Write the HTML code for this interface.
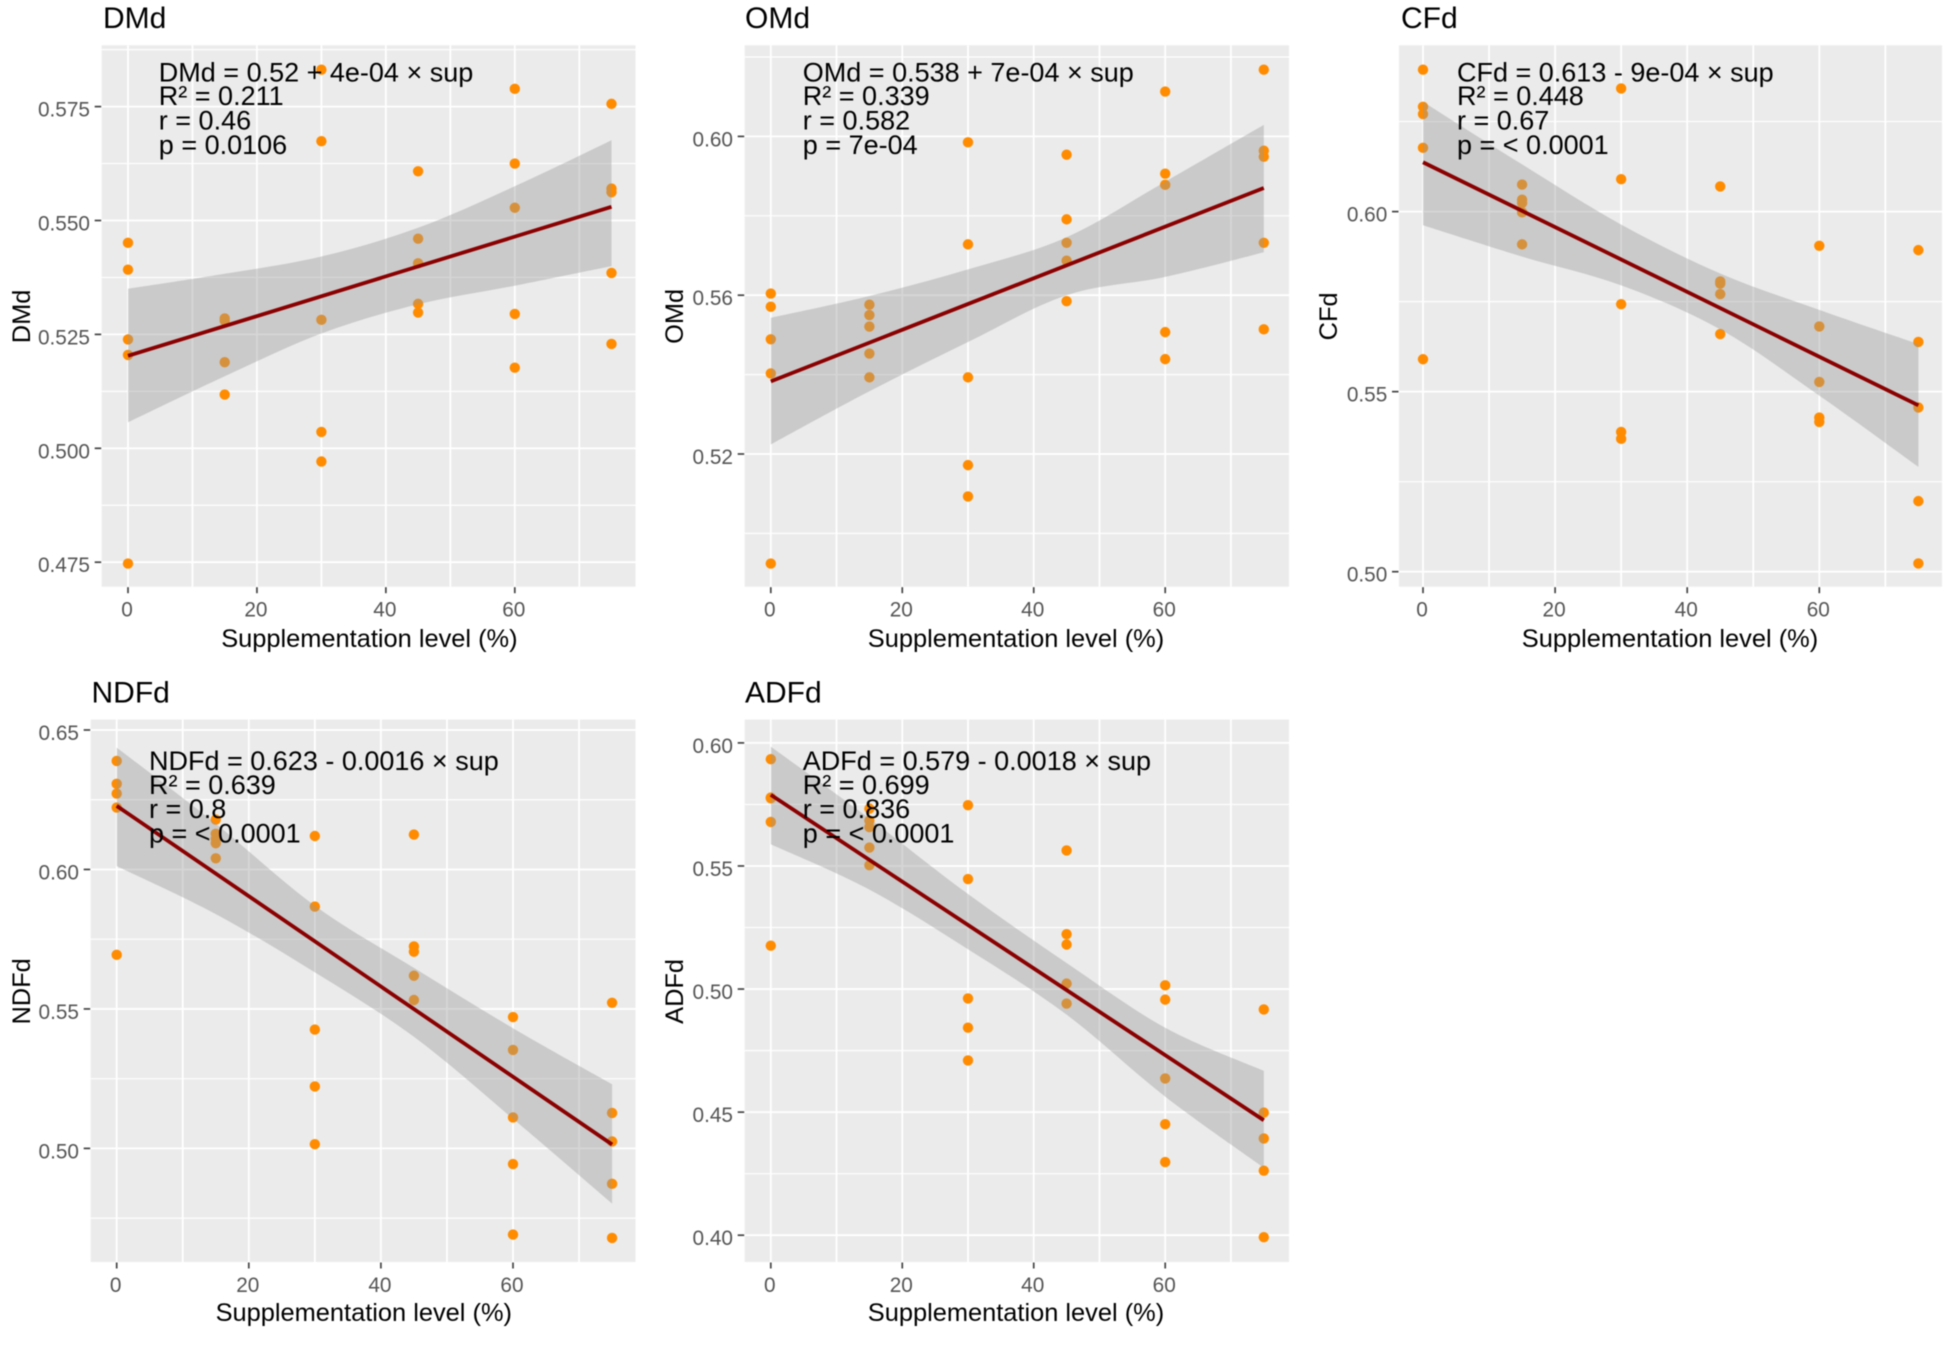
<!DOCTYPE html>
<html lang="en">
<head>
<meta charset="utf-8">
<title>Digestibility vs supplementation level</title>
<style>
  html, body { margin: 0; padding: 0; background: #fff; }
  svg { display: block; font-family: "Liberation Sans", Arial, sans-serif; filter: blur(0.45px); }
  .title { font-size: 30px; fill: #000; }
  .axis-title { font-size: 25.4px; fill: #000; }
  .note { font-size: 27px; fill: #000; }
  .tick-label { font-size: 20.8px; fill: #555; }
</style>
</head>
<body>
<svg id="figure" width="1949" height="1346" viewBox="0 0 1949 1346" xmlns="http://www.w3.org/2000/svg">
  <rect x="0" y="0" width="1949" height="1346" fill="#ffffff"/>
  <g id="marks"></g>

  <g>
    <text class="title" x="103" y="28">DMd</text>
    <text class="axis-title" x="369.4" y="647" text-anchor="middle">Supplementation level (%)</text>
    <text class="axis-title" transform="translate(30 316.4) rotate(-90)" text-anchor="middle">DMd</text>
    <text class="note" x="158.8" y="81.7">DMd = 0.52 + 4e-04 × sup</text>
    <text class="note" x="158.8" y="105.2">R² = 0.211</text>
    <text class="note" x="158.8" y="129.3">r = 0.46</text>
    <text class="note" x="158.8" y="154">p = 0.0106</text>
  </g>
  <g>
    <text class="title" x="745" y="28">OMd</text>
    <text class="axis-title" x="1016" y="647" text-anchor="middle">Supplementation level (%)</text>
    <text class="axis-title" transform="translate(682.8 316.4) rotate(-90)" text-anchor="middle">OMd</text>
    <text class="note" x="802.8" y="81.7">OMd = 0.538 + 7e-04 × sup</text>
    <text class="note" x="802.8" y="105.2">R² = 0.339</text>
    <text class="note" x="802.8" y="129.3">r = 0.582</text>
    <text class="note" x="802.8" y="154">p = 7e-04</text>
  </g>
  <g>
    <text class="title" x="1401" y="28">CFd</text>
    <text class="axis-title" x="1670" y="647" text-anchor="middle">Supplementation level (%)</text>
    <text class="axis-title" transform="translate(1337 316.4) rotate(-90)" text-anchor="middle">CFd</text>
    <text class="note" x="1457" y="81.7">CFd = 0.613 - 9e-04 × sup</text>
    <text class="note" x="1457" y="105.2">R² = 0.448</text>
    <text class="note" x="1457" y="129.3">r = 0.67</text>
    <text class="note" x="1457" y="154">p = &lt; 0.0001</text>
  </g>
  <g>
    <text class="title" x="91.5" y="702.5">NDFd</text>
    <text class="axis-title" x="363.8" y="1321" text-anchor="middle">Supplementation level (%)</text>
    <text class="axis-title" transform="translate(30 991.4) rotate(-90)" text-anchor="middle">NDFd</text>
    <text class="note" x="149" y="770">NDFd = 0.623 - 0.0016 × sup</text>
    <text class="note" x="149" y="793.8">R² = 0.639</text>
    <text class="note" x="149" y="818">r = 0.8</text>
    <text class="note" x="149" y="842.6">p = &lt; 0.0001</text>
  </g>
  <g>
    <text class="title" x="745" y="702.5">ADFd</text>
    <text class="axis-title" x="1016" y="1321" text-anchor="middle">Supplementation level (%)</text>
    <text class="axis-title" transform="translate(682.8 991.4) rotate(-90)" text-anchor="middle">ADFd</text>
    <text class="note" x="802.8" y="770">ADFd = 0.579 - 0.0018 × sup</text>
    <text class="note" x="802.8" y="793.8">R² = 0.699</text>
    <text class="note" x="802.8" y="818">r = 0.836</text>
    <text class="note" x="802.8" y="842.6">p = &lt; 0.0001</text>
  </g>
</svg>
<script>
// Shared x categories and ticks
const supLevels = [0, 15, 30, 45, 60, 75];
const xMajorTicks = [0, 20, 40, 60];
const xMinorTicks = [10, 30, 50, 70];
const xTickLabels = ["0", "20", "40", "60"];
const fitX = [0, 75];

// DMd
const dmdValues = [
  [0.5451, 0.5392, 0.5239, 0.5205, 0.4747],
  [0.5285, 0.5280, 0.5189, 0.5118],
  [0.5831, 0.5674, 0.5282, 0.5036, 0.4971],
  [0.5608, 0.5460, 0.5406, 0.5317, 0.5298],
  [0.5789, 0.5625, 0.5528, 0.5295, 0.5177],
  [0.5756, 0.5570, 0.5562, 0.5385, 0.5229]
];
const dmdFit = [0.5203, 0.5530];
const dmdUpper = [0.5350, 0.5383, 0.5421, 0.5484, 0.5575, 0.5676];
const dmdLower = [0.5057, 0.5158, 0.5252, 0.5316, 0.5357, 0.5400];
const dmdTicks = [0.475, 0.5, 0.525, 0.55, 0.575];
const dmdTickLabels = ["0.475", "0.500", "0.525", "0.550", "0.575"];
const dmdMinor = [0.4875, 0.5125, 0.5375, 0.5625, 0.5875];

// OMd
const omdValues = [
  [0.5604, 0.5571, 0.5489, 0.5403, 0.4924],
  [0.5576, 0.5550, 0.5521, 0.5453, 0.5393],
  [0.5985, 0.5728, 0.5393, 0.5172, 0.5093],
  [0.5954, 0.5791, 0.5732, 0.5687, 0.5585],
  [0.6113, 0.5906, 0.5878, 0.5507, 0.5439],
  [0.6168, 0.5964, 0.5949, 0.5732, 0.5514]
];
const omdFit = [0.5383, 0.5870];
const omdUpper = [0.5543, 0.5598, 0.5665, 0.5746, 0.5886, 0.6029];
const omdLower = [0.5224, 0.5358, 0.5482, 0.5600, 0.5646, 0.5708];
const omdTicks = [0.52, 0.56, 0.60];
const omdTickLabels = ["0.52", "0.56", "0.60"];
const omdMinor = [0.50, 0.54, 0.58, 0.62];

// CFd
const cfdValues = [
  [0.6394, 0.6291, 0.6271, 0.6177, 0.5590],
  [0.6075, 0.6033, 0.6024, 0.5998, 0.5909],
  [0.6342, 0.6090, 0.5743, 0.5388, 0.5369],
  [0.6070, 0.5806, 0.5800, 0.5771, 0.5660],
  [0.5905, 0.5681, 0.5527, 0.5428, 0.5416],
  [0.5893, 0.5638, 0.5456, 0.5196, 0.5023]
];
const cfdFit = [0.6137, 0.5462];
const cfdUpper = [0.6305, 0.6131, 0.5964, 0.5828, 0.5727, 0.5632];
const cfdLower = [0.5962, 0.5875, 0.5795, 0.5673, 0.5489, 0.5291];
const cfdTicks = [0.50, 0.55, 0.60];
const cfdTickLabels = ["0.50", "0.55", "0.60"];
const cfdMinor = [0.525, 0.575, 0.625];

// NDFd
const ndfdValues = [
  [0.6389, 0.6307, 0.6272, 0.6222, 0.5694],
  [0.6179, 0.6128, 0.6110, 0.6094, 0.6040],
  [0.6120, 0.5867, 0.5426, 0.5222, 0.5015],
  [0.6125, 0.5724, 0.5705, 0.5619, 0.5532],
  [0.5471, 0.5353, 0.5111, 0.4944, 0.4691],
  [0.5522, 0.5127, 0.5025, 0.4873, 0.4679]
];
const ndfdFit = [0.6228, 0.5014];
const ndfdUpper = [0.6437, 0.6164, 0.5870, 0.5647, 0.5431, 0.5230];
const ndfdLower = [0.6012, 0.5840, 0.5631, 0.5400, 0.5106, 0.4802];
const ndfdTicks = [0.50, 0.55, 0.60, 0.65];
const ndfdTickLabels = ["0.50", "0.55", "0.60", "0.65"];
const ndfdMinor = [0.475, 0.525, 0.575, 0.625];

// ADFd
const adfdValues = [
  [0.5934, 0.5778, 0.5775, 0.5679, 0.5176],
  [0.5733, 0.5684, 0.5658, 0.5575, 0.5503],
  [0.5747, 0.5447, 0.4962, 0.4843, 0.4710],
  [0.5563, 0.5223, 0.5181, 0.5022, 0.4941],
  [0.5015, 0.4957, 0.4637, 0.4451, 0.4297],
  [0.4917, 0.4498, 0.4393, 0.4262, 0.3992]
];
const adfdFit = [0.5789, 0.4467];
const adfdUpper = [0.5985, 0.5693, 0.5386, 0.5106, 0.4843, 0.4668];
const adfdLower = [0.5588, 0.5404, 0.5162, 0.4896, 0.4563, 0.4274];
const adfdTicks = [0.40, 0.45, 0.50, 0.55, 0.60];
const adfdTickLabels = ["0.40", "0.45", "0.50", "0.55", "0.60"];
const adfdMinor = [0.425, 0.475, 0.525, 0.575];

const NS = "http://www.w3.org/2000/svg";
const marksRoot = document.getElementById("marks");

function make(tag, parent, attrs) {
  const el = document.createElementNS(NS, tag);
  for (const k in attrs) el.setAttribute(k, attrs[k]);
  parent.appendChild(el);
  return el;
}

function linearScale(d0, r0, d1, r1) {
  return function (v) { return r0 + (v - d0) * (r1 - r0) / (d1 - d0); };
}

// Smooth curve segments through screen points (Catmull-Rom to cubic Bezier)
function curveSegments(pts) {
  let d = "";
  for (let i = 0; i < pts.length - 1; i++) {
    const p0 = pts[Math.max(i - 1, 0)];
    const p1 = pts[i];
    const p2 = pts[i + 1];
    const p3 = pts[Math.min(i + 2, pts.length - 1)];
    const c1x = p1[0] + (p2[0] - p0[0]) / 6;
    const c1y = p1[1] + (p2[1] - p0[1]) / 6;
    const c2x = p2[0] - (p3[0] - p1[0]) / 6;
    const c2y = p2[1] - (p3[1] - p1[1]) / 6;
    d += " C" + c1x.toFixed(1) + " " + c1y.toFixed(1) + " " + c2x.toFixed(1) + " " + c2y.toFixed(1) + " " + p2[0].toFixed(1) + " " + p2[1].toFixed(1);
  }
  return d;
}

function drawPanel(p) {
  const g = make("g", marksRoot, {});
  
  

  const bg = make("rect", g, { x: p.left, y: p.top, width: p.right - p.left, height: p.bottom - p.top, fill: "#ebebeb" });
  
  

  p.minor.forEach(function (v) {
    const line = make("line", g, { x1: p.left, x2: p.right, y1: p.y(v), y2: p.y(v), stroke: "#fff", "stroke-width": 1.2 });
    
    
  });
  xMinorTicks.forEach(function (v) {
    const line = make("line", g, { x1: p.x(v), x2: p.x(v), y1: p.top, y2: p.bottom, stroke: "#fff", "stroke-width": 1.8 });
    
    
  });
  p.ticks.forEach(function (v, i) {
    const line = make("line", g, { x1: p.left, x2: p.right, y1: p.y(v), y2: p.y(v), stroke: "#fff", "stroke-width": 1.8 });
    
    
    const tick = make("line", g, { x1: p.left - 7, x2: p.left - 0.5, y1: p.y(v), y2: p.y(v), stroke: "#444", "stroke-width": 1.7 });
    
    
    const label = make("text", g, { class: "tick-label", x: p.left - 11.7, y: p.y(v) + 10, "text-anchor": "end" });
    label.textContent = p.tickLabels[i];
    
    
  });
  xMajorTicks.forEach(function (v, i) {
    const line = make("line", g, { x1: p.x(v), x2: p.x(v), y1: p.top, y2: p.bottom, stroke: "#fff", "stroke-width": 1.8 });
    
    
    const tick = make("line", g, { x1: p.x(v), x2: p.x(v), y1: p.bottom + 0.5, y2: p.bottom + 6.5, stroke: "#444", "stroke-width": 1.7 });
    
    
    const label = make("text", g, { class: "tick-label", x: p.x(v) - 1, y: p.bottom + 30, "text-anchor": "middle" });
    label.textContent = xTickLabels[i];
    
    
  });

  supLevels.forEach(function (level, i) {
    p.values[i].forEach(function (v) {
      const dot = make("circle", g, { cx: p.x(level), cy: p.y(v), r: 5.2, fill: "#ff8c00" });
      
      
    });
  });

  const upperPts = supLevels.map(function (s, i) { return [p.x(s), p.y(p.upper[i])]; });
  const lowerPts = supLevels.map(function (s, i) { return [p.x(s), p.y(p.lower[i])]; }).reverse();
  const bandPath = "M" + upperPts[0][0].toFixed(1) + " " + upperPts[0][1].toFixed(1) +
    curveSegments(upperPts) +
    " L" + lowerPts[0][0].toFixed(1) + " " + lowerPts[0][1].toFixed(1) +
    curveSegments(lowerPts) + " Z";
  const band = make("path", g, { d: bandPath, fill: "#999999", "fill-opacity": 0.4 });
  
  

  const fit = make("line", g, {
    x1: p.x(fitX[0]), y1: p.y(p.fit[0]), x2: p.x(fitX[1]), y2: p.y(p.fit[1]),
    stroke: "#8b0000", "stroke-width": 3.8
  });
  
  
}

drawPanel({
  left: 101.7, right: 635.5, top: 45.3, bottom: 586.7,
  x: linearScale(0, 128, 60, 514.8), y: linearScale(0.475, 562.2, 0.575, 106.6),
  values: dmdValues, fit: dmdFit, upper: dmdUpper, lower: dmdLower,
  ticks: dmdTicks, tickLabels: dmdTickLabels, minor: dmdMinor
});
drawPanel({
  left: 744.7, right: 1289, top: 45.3, bottom: 586.7,
  x: linearScale(0, 770.8, 60, 1165.2), y: linearScale(0.52, 454, 0.60, 136.4),
  values: omdValues, fit: omdFit, upper: omdUpper, lower: omdLower,
  ticks: omdTicks, tickLabels: omdTickLabels, minor: omdMinor
});
drawPanel({
  left: 1399, right: 1942, top: 45.3, bottom: 586.7,
  x: linearScale(0, 1423, 60, 1819.3), y: linearScale(0.50, 571.7, 0.60, 211.6),
  values: cfdValues, fit: cfdFit, upper: cfdUpper, lower: cfdLower,
  ticks: cfdTicks, tickLabels: cfdTickLabels, minor: cfdMinor
});
drawPanel({
  left: 90.7, right: 635.5, top: 719.6, bottom: 1262,
  x: linearScale(0, 116.7, 60, 513), y: linearScale(0.50, 1148.4, 0.65, 730),
  values: ndfdValues, fit: ndfdFit, upper: ndfdUpper, lower: ndfdLower,
  ticks: ndfdTicks, tickLabels: ndfdTickLabels, minor: ndfdMinor
});
drawPanel({
  left: 744.7, right: 1289, top: 719.6, bottom: 1262,
  x: linearScale(0, 770.8, 60, 1165.2), y: linearScale(0.40, 1235.2, 0.60, 742.9),
  values: adfdValues, fit: adfdFit, upper: adfdUpper, lower: adfdLower,
  ticks: adfdTicks, tickLabels: adfdTickLabels, minor: adfdMinor
});
</script>
</body>
</html>
